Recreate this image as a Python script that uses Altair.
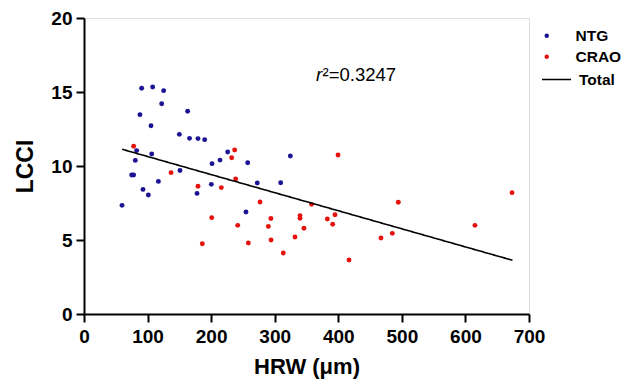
import altair as alt
import pandas as pd

# ---- data ----
ntg_x = [90.7, 108, 125.3, 122.2, 88, 163, 105.4, 150, 166, 179.3, 189.8, 82.8, 106.5,
         226, 80.7, 201.4, 214, 257.5, 324.6, 75, 78, 151, 117, 200.3, 272.6, 309.4,
         92.8, 101.2, 177.8, 59.8, 254.8]
ntg_y = [15.25, 15.34, 15.09, 14.21, 13.47, 13.7, 12.72, 12.14, 11.87, 11.85, 11.78, 11.04, 10.81,
         10.95, 10.38, 10.16, 10.4, 10.22, 10.68, 9.39, 9.39, 9.7, 8.96, 8.76, 8.85, 8.87,
         8.42, 8.04, 8.15, 7.34, 6.89]
crao_x = [78.1, 237, 232.3, 136.9, 238.6, 179.3, 216, 276.9, 358, 200.9, 294, 339.8, 339.8,
          382.8, 399.6, 394.8, 391.2, 346, 331.9, 290, 294.2, 258.5, 241.8, 186.1, 313.5,
          416.9, 467.2, 485, 494.4, 615, 673.3]
crao_y = [11.33, 11.08, 10.56, 9.55, 9.12, 8.63, 8.54, 7.57, 7.41, 6.51, 6.45, 6.65, 6.47,
          6.42, 10.74, 6.71, 6.06, 5.79, 5.2, 5.92, 5.0, 4.8, 5.99, 4.75, 4.12,
          3.65, 5.14, 5.45, 7.55, 5.99, 8.2]
fit_x = [60, 674]
fit_y = [11.13, 3.63]
x_ticks = [0, 100, 200, 300, 400, 500, 600, 700]
y_ticks = [0, 5, 10, 15, 20]
groups = ["NTG", "CRAO"]
colors = ["#1c1394", "#e5120e"]
fit_name = ["Total"]
ann_x = [365]
ann_y = [15.74]
ann_r = ["r"]
ann_rest = ["\u00b2=0.3247"]

FONT = "Liberation Sans"

pts = pd.DataFrame({
    "HRW": ntg_x + crao_x,
    "LCCI": ntg_y + crao_y,
    "group": ["NTG"] * len(ntg_x) + ["CRAO"] * len(crao_x),
})
fit = pd.DataFrame({"HRW": fit_x, "LCCI": fit_y, "fit": fit_name * len(fit_x)})
ann = pd.DataFrame({"HRW": ann_x, "LCCI": ann_y, "r": ann_r, "rest": ann_rest})

xscale = alt.Scale(domain=[0, 700], nice=False)
yscale = alt.Scale(domain=[0, 20], nice=False)

xaxis = alt.Axis(values=x_ticks, title="HRW (\u03bcm)", grid=False,
                 labelFont=FONT, labelFontSize=19, labelFontWeight="bold", labelColor="black",
                 titleFont=FONT, titleFontSize=22, titleFontWeight="bold", titleColor="black",
                 tickSize=8, tickWidth=2, tickColor="black", domainColor="black", domainWidth=2,
                 labelPadding=5, titlePadding=10, labelFlush=False)
yaxis = alt.Axis(values=y_ticks, title="LCCI", grid=False,
                 labelFont=FONT, labelFontSize=19, labelFontWeight="bold", labelColor="black",
                 titleFont=FONT, titleFontSize=23, titleFontWeight="bold", titleColor="black",
                 tickSize=8, tickWidth=2, tickColor="black", domainColor="black", domainWidth=2,
                 labelPadding=4, titlePadding=13, labelFlush=False)

pt_legend = alt.Legend(
    title=None, orient="none", legendX=455, legendY=10, padding=0,
    labelFont=FONT, labelFontSize=15.5, labelFontWeight="bold", labelColor="black",
    symbolSize=20, symbolType="circle", rowPadding=4, labelOffset=21,
)
line_legend = alt.Legend(
    title=None, orient="none", legendX=457, legendY=46, padding=0,
    labelFont=FONT, labelFontSize=15.5, labelFontWeight="bold", labelColor="black",
    symbolType="stroke", symbolSize=841, symbolStrokeColor="black", symbolStrokeWidth=1.4,
    labelOffset=7,
)

points = alt.Chart(pts).mark_circle(size=24, opacity=1).encode(
    x=alt.X("HRW:Q", scale=xscale, axis=xaxis),
    y=alt.Y("LCCI:Q", scale=yscale, axis=yaxis),
    color=alt.Color("group:N", scale=alt.Scale(domain=groups, range=colors), legend=pt_legend),
)

line = alt.Chart(fit).mark_line(strokeWidth=1.6, color="black").encode(
    x=alt.X("HRW:Q", scale=xscale),
    y=alt.Y("LCCI:Q", scale=yscale),
    strokeDash=alt.StrokeDash("fit:N", scale=alt.Scale(domain=fit_name, range=[[1, 0]]),
                              legend=line_legend),
)

txt_r = alt.Chart(ann).mark_text(font=FONT, fontSize=18.5, fontStyle="italic", align="left",
                                 baseline="alphabetic", color="black").encode(
    x="HRW:Q", y="LCCI:Q", text="r:N")
txt_rest = alt.Chart(ann).mark_text(font=FONT, fontSize=18.5, align="left", dx=6.5,
                                    baseline="alphabetic", color="black").encode(
    x="HRW:Q", y="LCCI:Q", text="rest:N")

chart = alt.layer(points, line, txt_r, txt_rest).properties(
    width=445, height=296,
    autosize=alt.AutoSizeParams(type="none"),
    padding={"left": 76, "top": 10, "right": 95, "bottom": 66},
).configure_view(stroke="#222222", strokeWidth=1.5).configure(background="white")

chart.save("out.html", embed_options={"renderer": "svg", "actions": False})
